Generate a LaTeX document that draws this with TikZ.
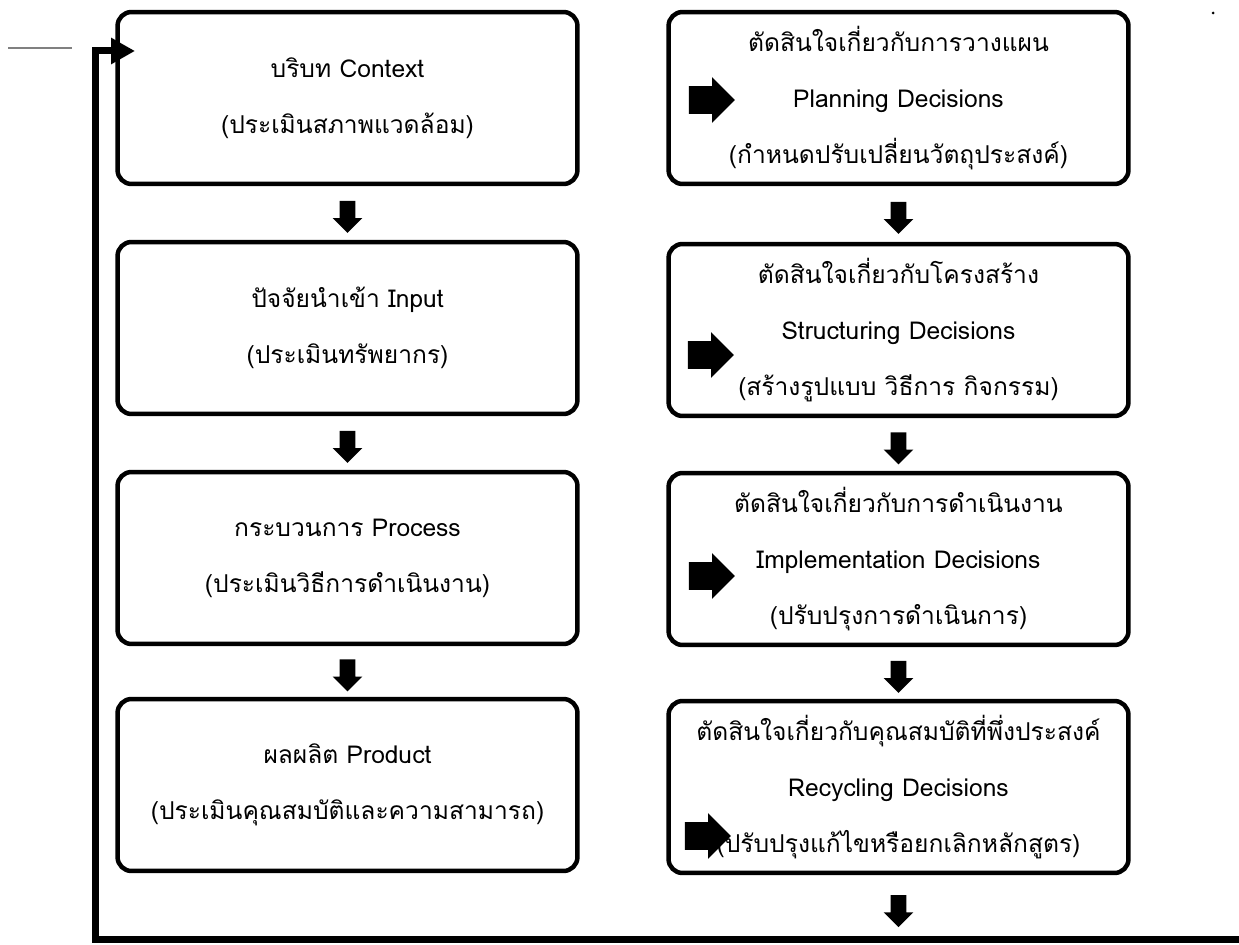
\documentclass[tikz,border=0pt]{standalone}
\usepackage{fontspec}
\newfontfamily\thaifont[Script=Thai]{Loma}
\usetikzlibrary{shapes.arrows,arrows.meta,calc}
\tikzset{
  stage/.style={draw, line width=0.09cm, rounded corners=0.28cm,
    minimum width=9.2cm, minimum height=3.44cm, align=center,
    font=\thaifont\fontsize{14}{32}\selectfont},
  downarr/.style={single arrow, fill=black, inner xsep=0pt,
    inner ysep=0.15cm, rotate=-90, minimum height=0.64cm,
    single arrow head extend=0.14cm},
  rightarr/.style={single arrow, fill=black, inner xsep=0pt,
    inner ysep=0.27cm, minimum height=0.92cm,
    single arrow head extend=0.18cm},
  feedback/.style={line width=0.14cm,
    -{Triangle[length=0.48cm,width=0.5cm]}}
}

\begin{document}
\begin{tikzpicture}[x=0.02cm, y=-0.02cm]
  \useasboundingbox (0,0) rectangle (1239,945);

  % evaluation (left column)
  \node[stage] at (347.5, 98) (ctx)
    {บริบท Context\\(ประเมินสภาพแวดล้อม)};
  \node[stage] at (347.5, 328) (inp)
    {ปัจจัยนำเข้า Input\\(ประเมินทรัพยากร)};
  \node[stage] at (347.5, 558) (proc)
    {กระบวนการ Process\\(ประเมินวิธีการดำเนินงาน)};
  \node[stage] at (347.5, 785) (prod)
    {ผลผลิต Product\\(ประเมินคุณสมบัติและความสามารถ)};

  % decisions (right column)
  \node[stage] at (898.5, 98) (plan)
    {ตัดสินใจเกี่ยวกับการวางแผน\\Planning Decisions\\(กำหนดปรับเปลี่ยนวัตถุประสงค์)};
  \node[stage] at (898.5, 330) (struct)
    {ตัดสินใจเกี่ยวกับโครงสร้าง\\Structuring Decisions\\(สร้างรูปแบบ วิธีการ กิจกรรม)};
  \node[stage] at (898.5, 559) (impl)
    {ตัดสินใจเกี่ยวกับการดำเนินงาน\\Implementation Decisions\\(ปรับปรุงการดำเนินการ)};
  \node[stage] at (898.5, 787) (recyc)
    {ตัดสินใจเกี่ยวกับคุณสมบัติที่พึ่งประสงค์\\Recycling Decisions\\(ปรับปรุงแก้ไขหรือยกเลิกหลักสูตร)};

  \node[downarr] at ($(ctx.south)!.5!(inp.north)$) (a1) {};
  \node[downarr] at ($(inp.south)!.5!(proc.north)$) (a2) {};
  \node[downarr] at ($(proc.south)!.5!(prod.north)$) (a3) {};
  \node[downarr] at ($(plan.south)!.5!(struct.north)$) (b1) {};
  \node[downarr] at ($(struct.south)!.5!(impl.north)$) (b2) {};
  \node[downarr] at ($(impl.south)!.5!(recyc.north)$) (b3) {};
  \node[downarr] at ($(recyc.south)+(0,32)$) (b4) {};

  \node[rightarr] at (705, 100) (r1) {};
  \node[rightarr] at (704, 355) (r2) {};
  \node[rightarr] at (705, 576) (r3) {};
  \node[rightarr] at (701, 836) (r4) {};

  % loop back to context
  \coordinate (loopR) at (1239, 939);
  \coordinate (loopL) at (95, 939);
  \coordinate (entry) at (135, 51);
  \draw[feedback] (loopR) -- (loopL) |- (entry);

  \draw[gray, line width=0.6pt] (8,48) -- (72,48);
  \fill (1213,13) circle (0.03cm);
\end{tikzpicture}
\end{document}
